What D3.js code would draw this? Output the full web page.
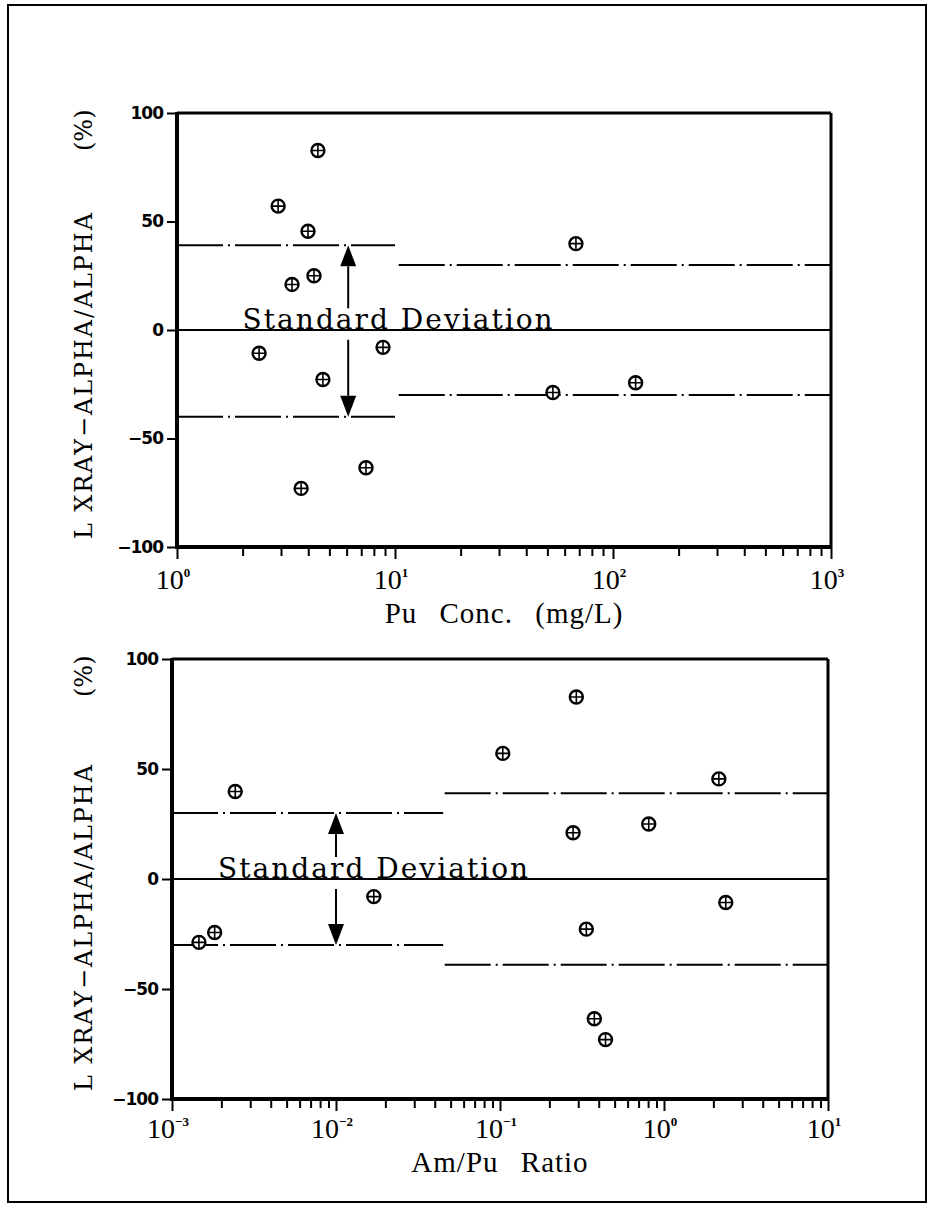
<!DOCTYPE html>
<html>
<head>
<meta charset="utf-8">
<script src="https://cdn.jsdelivr.net/npm/d3@7"></script>
<style>
  body { margin: 0; background: #fff; }
  svg { display: block; }
</style>
</head>
<body>
<svg id="chart" width="936" height="1206"></svg>
<script>
// same 13 samples plotted in both panels
const deviation = [82.7, 57.1, 45.5, 39.8, 25, 21, -8, -10.7, -22.8, -24.3, -28.8, -63.5, -73]
const puConc    = [4.43, 2.91, 3.99, 67.6, 4.25, 3.37, 8.81, 2.38, 4.67, 127, 53, 7.36, 3.71]
const amPuRatio = [0.292, 0.104, 2.16, 0.00243, 0.807, 0.279, 0.017, 2.38, 0.336, 0.00182, 0.00146, 0.376, 0.44]

const yTicks = [-100, -50, 0, 50, 100]
const puDecades = [1, 10, 100, 1000]
const ratioDecades = [1e-3, 1e-2, 1e-1, 1, 10]

// standard deviation bands: x range, upper and lower value
const puBands = [
  {x0: 1, x1: 10, hi: 39, lo: -40},
  {x0: 10.4, x1: 1000, hi: 30, lo: -30}
]
const ratioBands = [
  {x0: 1e-3, x1: 0.045, hi: 30, lo: -30},
  {x0: 0.046, x1: 10, hi: 39, lo: -39}
]

const svg = d3.select('#chart')

// outer frame
svg.append('rect')
  .attr('x', 8).attr('y', 5)
  .attr('width', 918).attr('height', 1197)
  .attr('fill', 'none').attr('stroke', '#000').attr('stroke-width', 2)

const minorTicks = (decades) => {
  const t = []
  decades.forEach((d, i) => {
    t.push(d)
    if (i < decades.length - 1) for (let k = 2; k <= 9; k++) t.push(d * k)
  })
  return t
}

const expText = d => {
  const e = Math.round(Math.log10(d))
  return e < 0 ? '\u2212' + Math.abs(e) : '' + e
}

const drawPanel = (p) => {
  const x = d3.scaleLog().domain([p.decades[0], p.decades[p.decades.length - 1]]).range([p.left, p.right])
  const y = d3.scaleLinear().domain([-100, 100]).range([p.bottom, p.top])
  const g = svg.append('g')

  // y axis ticks + labels
  const yAxis = d3.axisLeft(y)
    .tickValues(yTicks)
    .tickSize(10)
    .tickPadding(4)
    .tickFormat(d => d < 0 ? '\u2212' + Math.abs(d) : d)
  const ya = g.append('g').attr('transform', 'translate(' + p.left + ',0)').call(yAxis)
  ya.select('.domain').remove()
  ya.selectAll('line').attr('stroke-width', 2)
  ya.selectAll('text')
    .attr('font-family', 'DejaVu Sans')
    .attr('font-weight', 'bold')
    .attr('font-size', 17)
    .attr('letter-spacing', -1)
    .attr('fill', '#000')

  // x axis ticks
  const xAxis = d3.axisBottom(x)
    .tickValues(minorTicks(p.decades))
    .tickSize(9)
    .tickFormat('')
  const xa = g.append('g').attr('transform', 'translate(0,' + p.bottom + ')').call(xAxis)
  xa.select('.domain').remove()
  xa.selectAll('line').attr('stroke-width', 2)
    .attr('y2', d => p.decades.includes(d) ? 12 : 9)

  // decade labels 10^n
  const lab = g.selectAll('.xlab')
    .data(p.decades)
    .enter()
    .append('text')
    .attr('class', 'xlab')
    .attr('x', d => x(d) - 4)
    .attr('y', p.bottom + p.tickDy)
    .attr('text-anchor', 'middle')
    .attr('font-family', 'Liberation Serif')
    .attr('font-size', 28)
    .attr('fill', '#000')
  lab.append('tspan').text('10')
  lab.append('tspan')
    .attr('dy', -12)
    .attr('font-size', 13)
    .attr('font-weight', 'bold')
    .text(expText)

  // x title
  g.append('text')
    .attr('x', (p.left + p.right) / 2)
    .attr('y', p.bottom + p.titleDy)
    .attr('text-anchor', 'middle')
    .attr('font-family', 'Liberation Serif')
    .attr('font-size', 29)
    .attr('letter-spacing', 1)
    .attr('word-spacing', 14)
    .attr('fill', '#000')
    .text(p.title)

  // y title (rotated)
  g.append('text')
    .attr('transform', 'translate(92,' + (p.bottom - 8) + ') rotate(-90)')
    .attr('font-family', 'DejaVu Serif')
    .attr('font-size', 24)
    .attr('textLength', 326)
    .attr('fill', '#000')
    .text('L XRAY\u2212ALPHA/ALPHA')
  g.append('text')
    .attr('transform', 'translate(92,' + (p.top + 38) + ') rotate(-90)')
    .attr('font-family', 'DejaVu Serif')
    .attr('font-size', 24)
    .attr('fill', '#000')
    .text('(%)')

  // frame: left/bottom heavier
  g.append('line').attr('x1', p.left).attr('x2', p.right).attr('y1', y(100)).attr('y2', y(100))
    .attr('stroke', '#000').attr('stroke-width', 3)
  g.append('line').attr('x1', p.right).attr('x2', p.right).attr('y1', y(100)).attr('y2', y(-100))
    .attr('stroke', '#000').attr('stroke-width', 3)
  g.append('line').attr('x1', p.left).attr('x2', p.left).attr('y1', y(100) - 1).attr('y2', y(-100) + 2)
    .attr('stroke', '#000').attr('stroke-width', 4)
  g.append('line').attr('x1', p.left).attr('x2', p.right + 1).attr('y1', y(-100)).attr('y2', y(-100))
    .attr('stroke', '#000').attr('stroke-width', 4)

  // zero line
  g.append('line').attr('x1', p.left).attr('x2', p.right).attr('y1', y(0)).attr('y2', y(0))
    .attr('stroke', '#000').attr('stroke-width', 2)

  // standard deviation bands (dash-dot)
  p.bands.forEach(b => {
    [b.hi, b.lo].forEach(v => {
      g.append('line')
        .attr('x1', x(b.x0)).attr('x2', x(b.x1))
        .attr('y1', y(v)).attr('y2', y(v))
        .attr('stroke', '#000').attr('stroke-width', 2)
        .attr('stroke-dasharray', '46,5,2,5')
    })
  })

  // arrows
  const ax = x(p.arrowAt)
  const b0 = p.bands[0]
  const headH = 21, headW = 8
  g.append('line').attr('x1', ax).attr('x2', ax).attr('y1', y(10)).attr('y2', y(b0.hi) + headH)
    .attr('stroke', '#000').attr('stroke-width', 2)
  g.append('path')
    .attr('d', 'M' + ax + ',' + y(b0.hi) + 'L' + (ax - headW) + ',' + (y(b0.hi) + headH) + 'L' + (ax + headW) + ',' + (y(b0.hi) + headH) + 'Z')
    .attr('fill', '#000')
  g.append('line').attr('x1', ax).attr('x2', ax).attr('y1', y(-4.5)).attr('y2', y(b0.lo) - headH)
    .attr('stroke', '#000').attr('stroke-width', 2)
  g.append('path')
    .attr('d', 'M' + ax + ',' + y(b0.lo) + 'L' + (ax - headW) + ',' + (y(b0.lo) - headH) + 'L' + (ax + headW) + ',' + (y(b0.lo) - headH) + 'Z')
    .attr('fill', '#000')

  // annotation
  g.append('text')
    .attr('x', x(p.labelAt))
    .attr('y', y(0) - 1)
    .attr('font-family', 'DejaVu Serif')
    .attr('font-size', 28)
    .attr('textLength', 310)
    .attr('fill', '#000')
    .text('Standard Deviation')

  // markers
  const m = g.selectAll('.pt')
    .data(deviation.map((d, i) => ({x: p.xs[i], y: d})))
    .enter()
    .append('g')
    .attr('class', 'pt')
    .attr('transform', d => 'translate(' + x(d.x) + ',' + y(d.y) + ')')
  m.append('ellipse').attr('rx', 6.5).attr('ry', 6.5)
    .attr('fill', '#fff').attr('stroke', '#000').attr('stroke-width', 2.4)
  m.append('path').attr('d', 'M-6,0H6M0,-6V6')
    .attr('stroke', '#000').attr('stroke-width', 1.6)
}

drawPanel({
  left: 177, right: 831, top: 113, bottom: 547,
  decades: puDecades, xs: puConc, bands: puBands,
  arrowAt: 6.1, labelAt: 2,
  title: 'Pu Conc. (mg/L)', tickDy: 42, titleDy: 76
})

drawPanel({
  left: 172, right: 828, top: 659, bottom: 1099,
  decades: ratioDecades, xs: amPuRatio, bands: ratioBands,
  arrowAt: 0.01, labelAt: 0.00191,
  title: 'Am/Pu Ratio', tickDy: 39, titleDy: 73
})
</script>
</body>
</html>
